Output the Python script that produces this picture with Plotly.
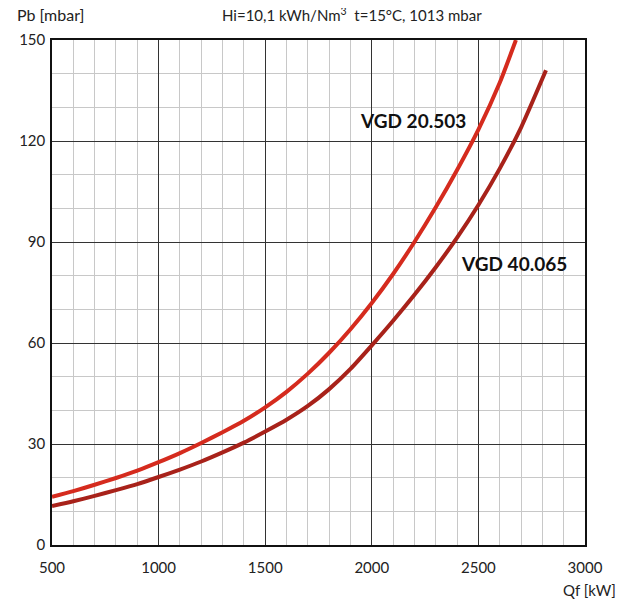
import plotly.graph_objects as go

# Data
q_vgd20 = [500, 600, 700, 800, 900, 1000, 1100, 1200, 1300, 1400, 1500, 1600, 1700,
           1800, 1900, 2000, 2100, 2200, 2300, 2400, 2500, 2600, 2676]
p_vgd20 = [14.3, 16.0, 17.9, 19.9, 22.1, 24.6, 27.3, 30.3, 33.5, 36.9, 40.9, 45.5, 50.9,
           57.1, 64.1, 71.9, 80.5, 90.0, 100.3, 111.4, 123.4, 137.3, 150.0]
q_vgd40 = [500, 600, 700, 800, 900, 1000, 1100, 1200, 1300, 1400, 1500, 1600, 1700,
           1800, 1900, 2000, 2100, 2200, 2300, 2400, 2500, 2600, 2700, 2817]
p_vgd40 = [11.6, 13.0, 14.6, 16.3, 18.1, 20.2, 22.4, 24.8, 27.5, 30.4, 33.7, 37.2, 41.3,
           46.3, 52.3, 59.3, 66.6, 74.3, 82.5, 91.3, 101.0, 111.8, 124.0, 141.0]

x_ticks = [500, 1000, 1500, 2000, 2500, 3000]
y_ticks = [0, 30, 60, 90, 120, 150]

FONT = "Lato, 'Noto Sans', sans-serif"

fig = go.Figure()
fig.add_trace(go.Scatter(x=q_vgd20, y=p_vgd20, mode="lines",
                         line=dict(color="#d52b1e", width=4, shape="spline", smoothing=0.6),
                         showlegend=False, hoverinfo="skip"))
fig.add_trace(go.Scatter(x=q_vgd40, y=p_vgd40, mode="lines",
                         line=dict(color="#a8221a", width=4, shape="spline", smoothing=0.6),
                         showlegend=False, hoverinfo="skip"))

fig.update_layout(
    width=635, height=603,
    margin=dict(l=44, r=58, t=32, b=66),
    paper_bgcolor="white", plot_bgcolor="white",
    font=dict(family=FONT, size=15, color="#222"),
    xaxis=dict(range=[500, 3000], tickvals=x_ticks, showgrid=True, gridcolor="#333", gridwidth=1.2,
               minor=dict(dtick=100, showgrid=True, gridcolor="#c8c8c8", gridwidth=1.2),
               showline=True, linecolor="#111", linewidth=1.5, mirror=True, zeroline=False,
               ticks="", ticklen=0, ticklabelstandoff=8, tickfont=dict(size=15)),
    yaxis=dict(range=[0, 150], tickvals=y_ticks, showgrid=True, gridcolor="#333", gridwidth=1.2,
               minor=dict(dtick=10, showgrid=True, gridcolor="#c8c8c8", gridwidth=1.2),
               showline=True, linecolor="#111", linewidth=1.5, mirror=True, zeroline=False,
               ticks="", ticklen=0, ticklabelstandoff=2, tickfont=dict(size=15)),
)

fig.add_annotation(text="Pb [mbar]", xref="paper", yref="paper", x=-0.069, y=1.0, yshift=26,
                   xanchor="left", yanchor="middle", showarrow=False, font=dict(size=16))
fig.add_annotation(text="Hi=10,1 kWh/Nm<sup>3</sup>  t=15°C, 1013 mbar", xref="paper", yref="paper",
                   x=0.315, y=1.0, yshift=26, xanchor="left", yanchor="middle", showarrow=False,
                   font=dict(size=15))
fig.add_annotation(text="Qf [kW]", xref="paper", yref="paper", x=1.062, y=0, yshift=-45,
                   xanchor="right", yanchor="middle", showarrow=False, font=dict(size=15))
fig.add_annotation(text="<b>VGD 20.503</b>", x=2191, y=126.2, showarrow=False,
                   font=dict(size=19, color="#111"))
fig.add_annotation(text="<b>VGD 40.065</b>", x=2667, y=83.5, showarrow=False,
                   font=dict(size=19, color="#111"))

fig.write_html("out.html")
